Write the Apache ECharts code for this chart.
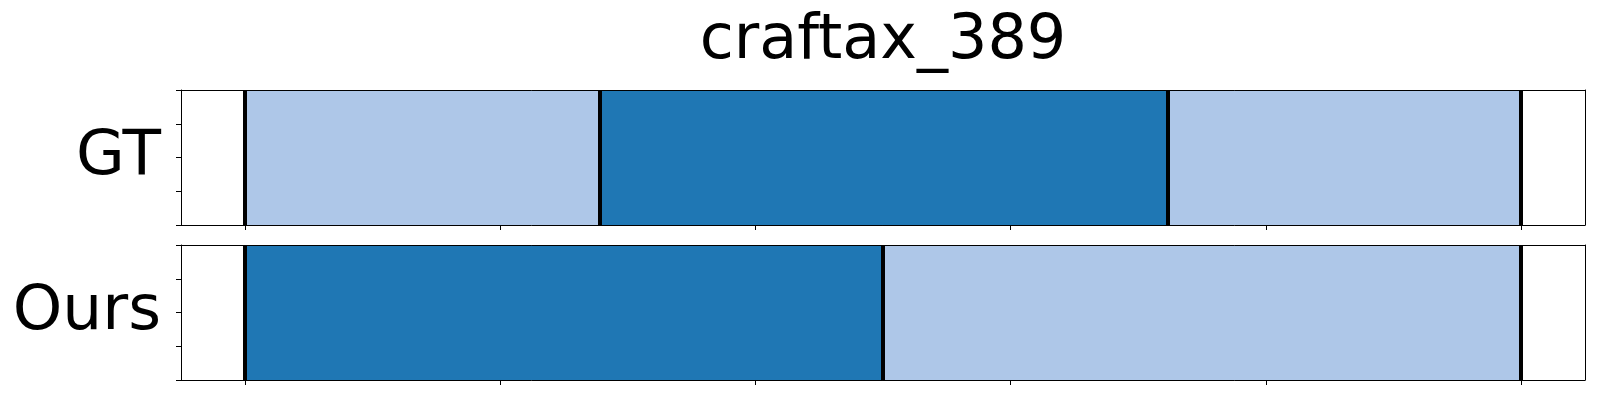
<!DOCTYPE html>
<html>
<head>
<meta charset="utf-8">
<script src="https://cdn.jsdelivr.net/npm/echarts@6/dist/echarts.min.js"></script>
<style>html,body{margin:0;padding:0;background:#fff}#c{width:1600px;height:400px}</style>
</head>
<body>
<div id="c"></div>
<script>
const title = 'craftax_389';
const rowNames = ['GT', 'Ours'];
const gtStart = [0, 27.8, 72.3];
const gtEnd = [27.8, 72.3, 100];
const gtClass = [0, 1, 0];
const oursStart = [0, 50];
const oursEnd = [50, 100];
const oursClass = [1, 0];
const xTicks = [0, 20, 40, 60, 80, 100];
const yTicks = [0, 0.25, 0.5, 0.75, 1];
const classColors = ['#aec7e8', '#1f77b4'];

const rows = [
  {start: gtStart, end: gtEnd, cls: gtClass},
  {start: oursStart, end: oursEnd, cls: oursClass}
];

const font = 'DejaVu Sans';
const grids = [
  {left: 181, right: 15, top: 90, height: 135},
  {left: 181, right: 15, top: 245, height: 135}
];
const xAxes = [], yAxes = [], series = [];
rows.forEach((r, i) => {
  const xi = xAxes.length, yi = yAxes.length;
  xAxes.push({
    gridIndex: i, type: 'value', min: -5, max: 105, position: 'bottom', z: 10,
    axisLine: {show: true, onZero: false, lineStyle: {color: '#000', width: 1}},
    axisTick: {show: true, customValues: xTicks, length: 5, lineStyle: {color: '#000', width: 1}},
    axisLabel: {show: false, customValues: xTicks}, splitLine: {show: false}
  });
  xAxes.push({
    gridIndex: i, type: 'value', min: -5, max: 105, position: 'top', z: 10,
    axisLine: {show: true, onZero: false, lineStyle: {color: '#000', width: 1}},
    axisTick: {show: false}, axisLabel: {show: false}, splitLine: {show: false}
  });
  yAxes.push({
    gridIndex: i, type: 'value', min: 0, max: 1, interval: 0.25, position: 'left', z: 10,
    name: rowNames[i], nameLocation: 'middle', nameRotate: 0, nameGap: 20,
    nameTextStyle: {fontSize: 63, fontFamily: font, color: '#000', padding: [0, 0, 12, 0]},
    axisLine: {show: true, onZero: false, lineStyle: {color: '#000', width: 1}},
    axisTick: {show: true, length: 5, lineStyle: {color: '#000', width: 1}},
    axisLabel: {show: false}, splitLine: {show: false}
  });
  yAxes.push({
    gridIndex: i, type: 'value', min: 0, max: 1, position: 'right', z: 10,
    axisLine: {show: true, onZero: false, lineStyle: {color: '#000', width: 1}},
    axisTick: {show: false}, axisLabel: {show: false}, splitLine: {show: false}
  });
  const data = r.start.map((s, k) => [s, r.end[k], r.cls[k]]);
  const bounds = [r.start[0]].concat(r.end);
  series.push({
    type: 'custom', xAxisIndex: xi, yAxisIndex: yi, data: data,
    encode: {x: [0, 1]},
    renderItem: function (params, api) {
      const p0 = api.coord([api.value(0), 1]);
      const p1 = api.coord([api.value(1), 0]);
      return {type: 'rect', shape: {x: p0[0], y: p0[1], width: p1[0] - p0[0], height: p1[1] - p0[1]},
        style: {fill: classColors[api.value(2)]}};
    },
    markLine: {
      silent: true, symbol: ['none', 'none'], animation: false,
      label: {show: false},
      lineStyle: {color: '#000', width: 4, type: 'solid'},
      data: bounds.map(v => ({xAxis: v}))
    }
  });
});

const chart = echarts.init(document.getElementById('c'), null, {renderer: 'canvas'});
chart.setOption({
  animation: false,
  backgroundColor: '#fff',
  title: {text: title, left: 878, textAlign: 'center', top: 6,
    textStyle: {fontSize: 62, fontFamily: font, fontWeight: 'normal', color: '#000'}},
  grid: grids,
  xAxis: xAxes,
  yAxis: yAxes,
  series: series
});
</script>
</body>
</html>
